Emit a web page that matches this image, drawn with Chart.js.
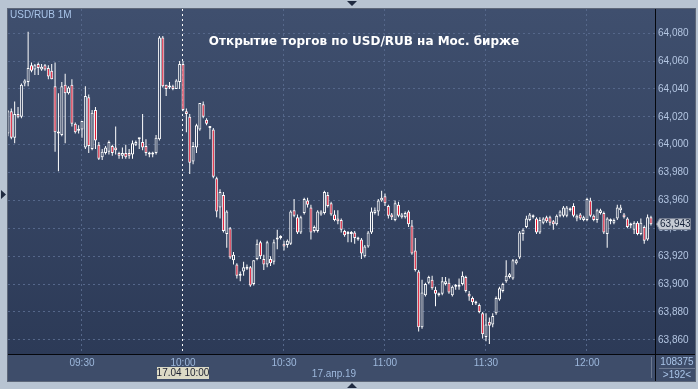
<!DOCTYPE html>
<html>
<head>
<meta charset="utf-8">
<script src="https://cdn.jsdelivr.net/npm/chart.js@4.4.1/dist/chart.umd.min.js"></script>
<style>
  html, body { margin: 0; padding: 0; background: #b8c4d2; }
</style>
</head>
<body>
<canvas id="chart" width="698" height="389"></canvas>
<script>
// Минутные свечи USD/RUB, первая свеча 09:08
const startMinute = 548;

const opens = [
  64.008, 64.024, 64.005, 64.022, 64.020, 64.044, 64.045, 64.057, 64.054, 64.058,
  64.054, 64.057, 64.055, 64.053, 64.042, 64.009, 64.007, 64.043, 64.037, 64.043,
  64.015, 64.011, 64.011, 63.998, 64.034, 63.997, 64.025, 64.000, 63.991, 63.994,
  63.995, 63.999, 63.998, 63.994, 63.992, 63.994, 63.994, 63.993, 64.000, 64.005,
  64.002, 63.999, 63.994, 63.993, 63.994, 64.004, 64.077, 64.043, 64.041, 64.042,
  64.040, 64.045, 64.058, 64.024, 64.020, 63.988, 63.998, 64.011, 64.029, 64.018,
  64.013, 64.011, 63.976, 63.955, 63.964, 63.936, 63.940, 63.917, 63.914, 63.907,
  63.909, 63.912, 63.912, 63.900, 63.918, 63.930, 63.918, 63.914, 63.918, 63.916,
  63.932, 63.933, 63.929, 63.928, 63.929, 63.953, 63.948, 63.937, 63.951, 63.960,
  63.955, 63.938, 63.938, 63.950, 63.951, 63.964, 63.958, 63.950, 63.947, 63.946,
  63.938, 63.937, 63.936, 63.937, 63.933, 63.932, 63.920, 63.927, 63.937, 63.951,
  63.952, 63.960, 63.963, 63.956, 63.950, 63.946, 63.957, 63.948, 63.948, 63.952,
  63.942, 63.924, 63.909, 63.869, 63.892, 63.901, 63.903, 63.896, 63.893, 63.893,
  63.900, 63.901, 63.892, 63.898, 63.899, 63.900, 63.905, 63.893, 63.890, 63.887,
  63.885, 63.879, 63.862, 63.873, 63.871, 63.879, 63.889, 63.895, 63.902, 63.905,
  63.904, 63.915, 63.919, 63.936, 63.941, 63.946, 63.948, 63.947, 63.937, 63.944,
  63.948, 63.948, 63.945, 63.943, 63.949, 63.949, 63.949, 63.953, 63.956, 63.947,
  63.950, 63.946, 63.946, 63.960, 63.949, 63.946, 63.951, 63.951, 63.936, 63.945,
  63.944, 63.947, 63.953, 63.950, 63.947, 63.943, 63.939, 63.944, 63.936, 63.941,
  63.932, 63.948
];

const highs = [
  64.025, 64.026, 64.031, 64.027, 64.044, 64.047, 64.081, 64.059, 64.058, 64.059,
  64.058, 64.058, 64.057, 64.058, 64.059, 64.037, 64.045, 64.051, 64.042, 64.047,
  64.016, 64.014, 64.017, 64.042, 64.036, 64.025, 64.027, 64.002, 63.997, 63.999,
  64.003, 64.000, 64.013, 63.995, 63.998, 64.000, 63.997, 64.003, 64.003, 64.005,
  64.022, 64.004, 63.995, 63.995, 64.007, 64.078, 64.078, 64.043, 64.045, 64.043,
  64.047, 64.060, 64.060, 64.026, 64.022, 64.002, 64.015, 64.030, 64.031, 64.019,
  64.013, 64.012, 63.977, 63.968, 63.966, 63.953, 63.941, 63.923, 63.915, 63.909,
  63.916, 63.914, 63.913, 63.917, 63.932, 63.931, 63.921, 63.931, 63.920, 63.932,
  63.939, 63.935, 63.931, 63.932, 63.953, 63.961, 63.950, 63.949, 63.962, 63.962,
  63.957, 63.942, 63.953, 63.953, 63.967, 63.966, 63.959, 63.953, 63.953, 63.947,
  63.939, 63.938, 63.938, 63.938, 63.934, 63.933, 63.928, 63.938, 63.955, 63.955,
  63.961, 63.967, 63.965, 63.957, 63.951, 63.960, 63.959, 63.951, 63.952, 63.953,
  63.946, 63.933, 63.910, 63.903, 63.901, 63.906, 63.906, 63.898, 63.894, 63.905,
  63.905, 63.904, 63.899, 63.900, 63.904, 63.909, 63.906, 63.895, 63.891, 63.888,
  63.886, 63.880, 63.879, 63.876, 63.879, 63.891, 63.898, 63.901, 63.917, 63.908,
  63.918, 63.918, 63.938, 63.940, 63.949, 63.951, 63.950, 63.948, 63.948, 63.948,
  63.949, 63.949, 63.946, 63.950, 63.953, 63.956, 63.956, 63.955, 63.958, 63.950,
  63.951, 63.949, 63.962, 63.962, 63.950, 63.954, 63.954, 63.952, 63.948, 63.947,
  63.947, 63.957, 63.957, 63.951, 63.948, 63.944, 63.945, 63.945, 63.947, 63.942,
  63.950, 63.949
];

const lows = [
  64.006, 64.004, 64.001, 64.019, 64.019, 64.042, 64.042, 64.052, 64.050, 64.050,
  64.053, 64.053, 64.047, 64.047, 63.995, 63.981, 64.006, 64.001, 64.036, 64.013,
  64.008, 64.008, 64.005, 63.997, 63.994, 63.996, 63.997, 63.989, 63.989, 63.993,
  63.993, 63.992, 63.993, 63.990, 63.990, 63.990, 63.990, 63.990, 63.999, 63.997,
  63.996, 63.992, 63.991, 63.991, 63.993, 64.003, 64.041, 64.035, 64.040, 64.039,
  64.040, 64.040, 64.024, 64.009, 63.979, 63.986, 63.994, 64.010, 64.019, 64.014,
  64.004, 63.976, 63.948, 63.947, 63.937, 63.926, 63.918, 63.914, 63.904, 63.902,
  63.906, 63.910, 63.898, 63.899, 63.917, 63.918, 63.910, 63.912, 63.913, 63.914,
  63.925, 63.932, 63.924, 63.926, 63.928, 63.948, 63.936, 63.936, 63.950, 63.955,
  63.932, 63.937, 63.937, 63.949, 63.950, 63.955, 63.949, 63.945, 63.943, 63.937,
  63.934, 63.930, 63.930, 63.929, 63.931, 63.918, 63.919, 63.926, 63.936, 63.950,
  63.949, 63.959, 63.956, 63.947, 63.946, 63.945, 63.948, 63.947, 63.947, 63.941,
  63.921, 63.909, 63.866, 63.868, 63.891, 63.900, 63.896, 63.884, 63.891, 63.892,
  63.899, 63.893, 63.891, 63.896, 63.896, 63.899, 63.894, 63.888, 63.885, 63.885,
  63.879, 63.861, 63.859, 63.857, 63.869, 63.878, 63.888, 63.894, 63.901, 63.904,
  63.903, 63.914, 63.918, 63.931, 63.940, 63.945, 63.947, 63.936, 63.936, 63.943,
  63.944, 63.942, 63.939, 63.942, 63.948, 63.948, 63.948, 63.952, 63.948, 63.945,
  63.946, 63.945, 63.945, 63.948, 63.945, 63.944, 63.950, 63.936, 63.926, 63.943,
  63.943, 63.946, 63.951, 63.947, 63.940, 63.940, 63.936, 63.935, 63.935, 63.929,
  63.931, 63.942
];

const closes = [
  64.024, 64.005, 64.022, 64.020, 64.043, 64.046, 64.055, 64.053, 64.057, 64.055,
  64.056, 64.054, 64.049, 64.047, 64.009, 64.008, 64.042, 64.037, 64.041, 64.015,
  64.009, 64.010, 64.017, 64.035, 63.999, 64.023, 64.003, 63.990, 63.995, 63.998,
  64.002, 63.994, 63.996, 63.992, 63.994, 63.991, 63.992, 64.001, 64.002, 64.004,
  63.998, 63.994, 63.993, 63.994, 64.005, 64.077, 64.042, 64.040, 64.042, 64.040,
  64.046, 64.058, 64.025, 64.022, 63.987, 63.999, 64.014, 64.030, 64.020, 64.015,
  64.012, 63.977, 63.952, 63.966, 63.938, 63.952, 63.919, 63.921, 63.906, 63.906,
  63.912, 63.911, 63.899, 63.917, 63.929, 63.920, 63.914, 63.930, 63.915, 63.930,
  63.933, 63.934, 63.927, 63.931, 63.952, 63.949, 63.937, 63.948, 63.961, 63.957,
  63.937, 63.941, 63.952, 63.952, 63.966, 63.956, 63.950, 63.946, 63.945, 63.939,
  63.935, 63.936, 63.937, 63.933, 63.932, 63.922, 63.927, 63.937, 63.952, 63.953,
  63.960, 63.962, 63.958, 63.949, 63.948, 63.958, 63.949, 63.950, 63.951, 63.943,
  63.922, 63.910, 63.869, 63.894, 63.900, 63.905, 63.897, 63.893, 63.892, 63.902,
  63.902, 63.894, 63.898, 63.899, 63.898, 63.906, 63.895, 63.891, 63.887, 63.886,
  63.880, 63.864, 63.871, 63.870, 63.877, 63.890, 63.897, 63.900, 63.906, 63.907,
  63.917, 63.917, 63.937, 63.939, 63.947, 63.950, 63.949, 63.937, 63.946, 63.947,
  63.945, 63.944, 63.943, 63.949, 63.952, 63.955, 63.955, 63.954, 63.949, 63.949,
  63.947, 63.948, 63.961, 63.949, 63.946, 63.953, 63.953, 63.937, 63.947, 63.946,
  63.946, 63.955, 63.955, 63.948, 63.941, 63.942, 63.944, 63.936, 63.944, 63.931,
  63.948, 63.943
];

// Подписи осей
const timeTicks = ['09:30', '10:00', '10:30', '11:00', '11:30', '12:00'];
const priceTicks = [63.86, 63.88, 63.90, 63.92, 63.94, 63.96, 63.98, 64.00, 64.02, 64.04, 64.06, 64.08];
const sessionOpen = '10:00';

const chartTitle = 'Открытие торгов по USD/RUB на Мос. бирже';
const symbolLabel = 'USD/RUB 1M';
const dateLabel = '17.апр.19';
const cursorLabel = '17.04 10:00';
const volumeLabel = '108375';
const barsLabel = '>192<';

// Вспомогательные функции
function toMinutes(s) {
  const parts = s.split(':').map(Number);
  return parts[0] * 60 + parts[1];
}
function fmtTime(m) {
  const h = Math.floor(m / 60), mm = Math.round(m % 60);
  return String(h).padStart(2, '0') + ':' + String(mm).padStart(2, '0');
}
function fmtPrice(v) {
  return Number(v).toFixed(3).replace('.', ',');
}

const minutes = opens.map((_, i) => startMinute + i);
const wickData = minutes.map((m, i) => ({ x: m, y: [lows[i], highs[i]] }));
const bodyData = minutes.map((m, i) => ({ x: m, y: [opens[i], closes[i]] }));
const bodyColors = closes.map((c, i) => c >= opens[i] ? '#34425f' : '#e3132e');
const lastPrice = closes[closes.length - 1];

const FONT = 'Liberation Sans';

// Фон панели
const panelPlugin = {
  id: 'panel',
  beforeDraw(chart) {
    const ctx = chart.ctx;
    const a = chart.chartArea;
    const right = chart.width - 3;
    const bottom = chart.height - 8;
    ctx.save();
    ctx.fillStyle = '#b8c4d2';
    ctx.fillRect(0, 0, chart.width, chart.height);
    const g = ctx.createLinearGradient(0, a.top, 0, a.bottom);
    g.addColorStop(0, '#3f4f6e');
    g.addColorStop(1, '#2c3a57');
    ctx.fillStyle = g;
    ctx.fillRect(a.left, a.top, right - a.left, a.bottom - a.top);
    ctx.fillStyle = '#3e4d6a';
    ctx.fillRect(a.left, a.bottom, right - a.left, bottom - a.bottom);
    ctx.strokeStyle = '#5d6779';
    ctx.lineWidth = 1;
    ctx.strokeRect(a.left - 0.5, a.top - 0.5, right - a.left + 1, bottom - a.top + 1);
    ctx.restore();
  }
};

// Надписи поверх графика
const overlayPlugin = {
  id: 'overlay',
  afterDraw(chart) {
    const ctx = chart.ctx;
    const a = chart.chartArea;
    const right = chart.width - 3;
    const bottom = chart.height - 8;
    const xs = chart.scales.x, ys = chart.scales.y;
    ctx.save();

    // линии рамки в нижней полосе
    ctx.strokeStyle = '#05070c';
    ctx.lineWidth = 1;
    ctx.beginPath();
    ctx.moveTo(a.right, a.bottom + 0.5); ctx.lineTo(right, a.bottom + 0.5);
    ctx.moveTo(a.right + 0.5, a.bottom); ctx.lineTo(a.right + 0.5, bottom);
    ctx.stroke();
    ctx.strokeStyle = '#6b7890';
    ctx.beginPath();
    ctx.moveTo(a.right - 3.5, a.bottom + 3); ctx.lineTo(a.right - 3.5, bottom - 3);
    ctx.moveTo(a.right + 4, a.bottom + 14.5); ctx.lineTo(right, a.bottom + 14.5);
    ctx.stroke();

    ctx.textBaseline = 'middle';

    // символ
    ctx.font = '10px "' + FONT + '"';
    ctx.fillStyle = '#a9c4e8';
    ctx.textAlign = 'left';
    ctx.fillText(symbolLabel, 10, 15);

    // заголовок
    ctx.font = 'bold 12px "DejaVu Sans"';
    ctx.fillStyle = '#ffffff';
    ctx.textAlign = 'center';
    ctx.fillText(chartTitle, 364, 42);

    // дата под осью
    ctx.font = '10px "' + FONT + '"';
    ctx.fillStyle = '#9db8dc';
    ctx.fillText(dateLabel, 334, 374);

    // метка курсора времени
    const cx = xs.getPixelForValue(toMinutes(sessionOpen));
    ctx.fillStyle = '#dcdac6';
    ctx.fillRect(cx - 26, 367, 52, 12);
    ctx.fillStyle = '#1c2030';
    ctx.fillText(cursorLabel, cx, 373.5);

    // объём и число баров
    ctx.fillStyle = '#a9c4e8';
    ctx.fillText(volumeLabel, (a.right + right) / 2 + 2, a.bottom + 8);
    ctx.fillText(barsLabel, (a.right + right) / 2 + 2, a.bottom + 21);

    // текущая цена
    const py = ys.getPixelForValue(lastPrice);
    ctx.fillStyle = '#c5cad3';
    ctx.strokeStyle = '#7d8697';
    ctx.beginPath();
    ctx.moveTo(a.right + 1.5, py);
    ctx.lineTo(a.right + 4.5, py - 5.5);
    ctx.lineTo(right - 4.5, py - 5.5);
    ctx.lineTo(right - 4.5, py + 5.5);
    ctx.lineTo(a.right + 4.5, py + 5.5);
    ctx.closePath();
    ctx.fill();
    ctx.stroke();
    ctx.fillStyle = '#16223a';
    ctx.textAlign = 'left';
    ctx.fillText(fmtPrice(lastPrice), a.right + 5, py + 0.5);

    // маркеры
    ctx.fillStyle = '#1f2a40';
    ctx.beginPath();
    ctx.moveTo(347, 1); ctx.lineTo(357, 1); ctx.lineTo(352, 6); ctx.closePath();
    ctx.moveTo(347, 388); ctx.lineTo(357, 388); ctx.lineTo(352, 383); ctx.closePath();
    ctx.moveTo(1, 190); ctx.lineTo(1, 199); ctx.lineTo(6, 194.5); ctx.closePath();
    ctx.fill();

    ctx.restore();
  }
};

const ctx = document.getElementById('chart').getContext('2d');
const chart = new Chart(ctx, {
  type: 'bar',
  data: {
    datasets: [
      {
        label: 'Тело',
        data: bodyData,
        backgroundColor: bodyColors,
        borderColor: '#ffffff',
        borderWidth: 1,
        borderSkipped: false,
        barThickness: 3,
        minBarLength: 2,
        grouped: false,
        inflateAmount: 0,
        order: 0
      },
      {
        label: 'Тень',
        data: wickData,
        backgroundColor: '#ffffff',
        borderWidth: 0,
        barThickness: 1,
        minBarLength: 1,
        grouped: false,
        inflateAmount: 0,
        order: 1
      }
    ]
  },
  options: {
    responsive: false,
    animation: false,
    layout: { padding: { left: 8, top: 8, right: 3, bottom: 8 } },
    plugins: {
      legend: { display: false },
      tooltip: { enabled: false }
    },
    scales: {
      x: {
        type: 'linear',
        min: 548.02,
        max: 740.2,
        offset: false,
        grid: {
          offset: false,
          drawTicks: false,
          lineWidth: 1,
          color: c => (c.tick && c.tick.value === toMinutes(sessionOpen)) ? '#ffffff' : '#55678a'
        },
        border: { color: '#05070c', width: 1, dash: [2, 3] },
        afterBuildTicks: s => { s.ticks = timeTicks.map(t => ({ value: toMinutes(t) })); },
        afterFit: s => { s.height = 27; },
        ticks: {
          color: '#9db8dc',
          font: { family: FONT, size: 10 },
          padding: 3,
          maxRotation: 0,
          autoSkip: false,
          callback: v => fmtTime(v)
        }
      },
      y: {
        position: 'right',
        min: 63.8498,
        max: 64.0974,
        grid: { color: '#55678a', drawTicks: false, lineWidth: 1 },
        border: { color: '#05070c', width: 1, dash: [2, 3] },
        afterBuildTicks: s => { s.ticks = priceTicks.map(v => ({ value: v })); },
        afterFit: s => { s.width = 40; },
        ticks: {
          color: '#b4c6e2',
          font: { family: FONT, size: 10 },
          padding: 3,
          autoSkip: false,
          callback: v => fmtPrice(v)
        }
      }
    }
  },
  plugins: [panelPlugin, overlayPlugin]
});
</script>
</body>
</html>
